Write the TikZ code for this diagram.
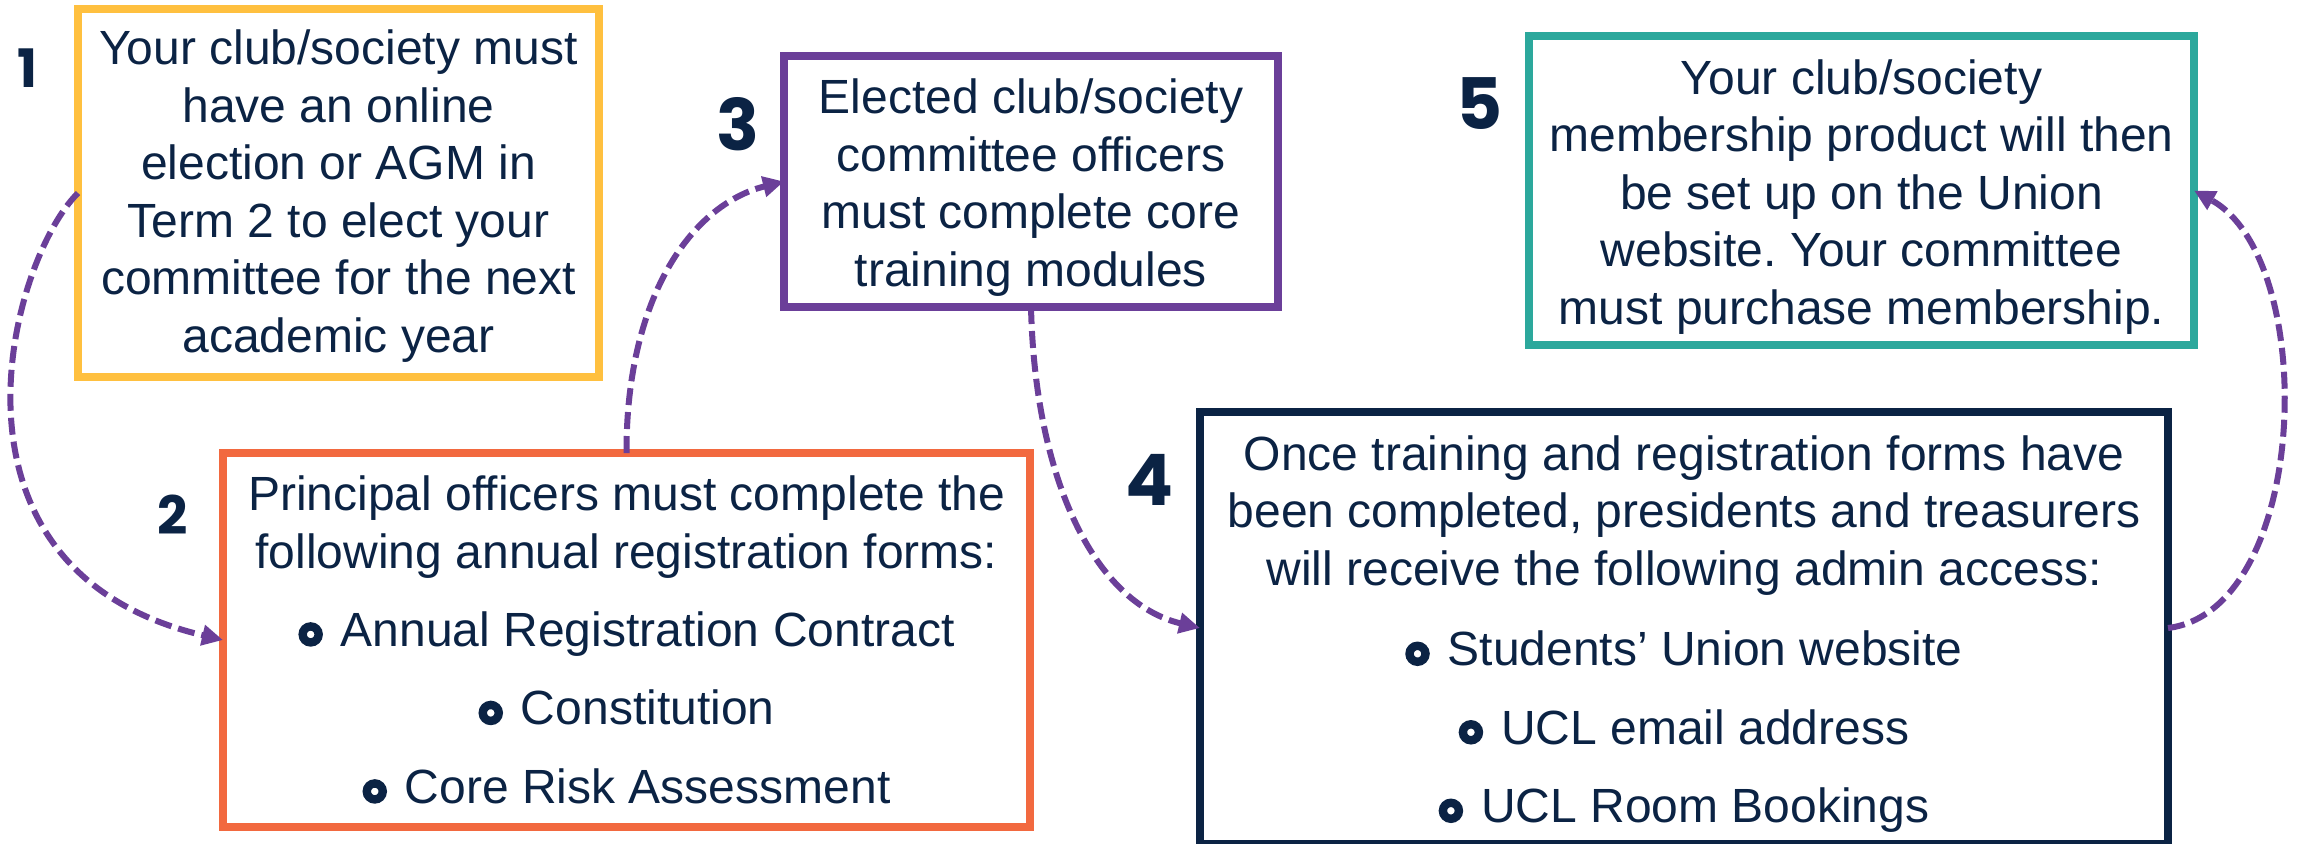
\documentclass[tikz,border=0pt]{standalone}
\usepackage{fontspec}
\setmainfont{Liberation Sans}
\newfontfamily\numfont{Poppins}
\usetikzlibrary{arrows.meta}
\definecolor{navy}{HTML}{0B2344}
\definecolor{yellowc}{HTML}{FFC03F}
\definecolor{orangec}{HTML}{F2693F}
\definecolor{purplec}{HTML}{6B3F99}
\definecolor{tealc}{HTML}{2CA89C}
\newcommand{\rb}{\tikz[baseline=0pt]\draw[navy,line width=4.2pt,solid] (0pt,6pt) circle[radius=4pt];\hspace{9pt}}
\newcommand{\up}[1]{\rule{0pt}{#1}}
\frenchspacing
\tikzset{
  box/.style={draw, line width=4pt, fill=white, inner sep=0pt, outer sep=0pt, align=center, text=navy, font=\fontsize{24}{28.75}\selectfont},
  numsmall/.style={text=navy, inner sep=0pt, font=\numfont\bfseries\fontsize{26.5}{26.5}\selectfont},
  numbig/.style={text=navy, inner sep=0pt, font=\numfont\bfseries\fontsize{35.5}{35.5}\selectfont},
  flow/.style={draw=purplec, line width=3pt, dash pattern=on 8.5pt off 3.5pt, -{Triangle[length=10.5pt,width=10pt]}},
}
\begin{document}
\begin{tikzpicture}[x=0.5pt,y=-0.5pt]
\useasboundingbox (0,0) rectangle (2300,843);
\fill[white] (0,0) rectangle (2300,843);

\node[box, draw=yellowc, minimum width=260.5pt, minimum height=184pt] (b1) at (338.5,193)
  {\up{20.5pt}Your club/society must\\have an online\\election or AGM in\\Term 2 to elect your\\committee for the next\\academic year};
\node[box, draw=orangec, minimum width=403.5pt, minimum height=187pt] (b2) at (626.5,640)
  {Principal officers must complete the\\following annual registration forms:\\[10.25pt]\rb Annual Registration Contract\\[10.5pt]\rb Constitution\\[10.5pt]\rb Core Risk Assessment};
\node[box, draw=purplec, minimum width=247pt, minimum height=125.5pt] (b3) at (1031,181.5)
  {\up{23.5pt}Elected club/society\\committee officers\\must complete core\\training modules};
\node[box, draw=navy, minimum width=484pt, minimum height=216pt] (b4) at (1684,628)
  {\up{23.5pt}Once training and registration forms have\\been completed, presidents and treasurers\\will receive the following admin access:\\[11.5pt]\rb Students’ Union website\\[10.5pt]\rb UCL email address\\[10.5pt]\rb UCL Room Bookings};
\node[box, draw=tealc, minimum width=332.5pt, minimum height=154.5pt] (b5) at (1861.5,190.5)
  {\up{23.5pt}Your club/society\\membership product will then\\be set up on the Union\\website. Your committee\\must purchase membership.};

\node[numsmall] (n1) at (27,68) {1};
\node[numsmall] (n2) at (173,515) {2};
\node[numbig] (n3) at (738,124) {3};
\node[numbig] (n4) at (1150,480) {4};
\node[numbig] (n5) at (1480,104) {5};

\draw[flow] (b1.west) .. controls (10,260) and (-75,570) .. (b2.west);
\draw[flow] (b2.north) .. controls (626,300) and (690,205) .. (b3.west);
\draw[flow] (b3.south) .. controls (1035,480) and (1095,603) .. (b4.west);
\draw[flow] (b4.east) .. controls (2310,610) and (2320,260) .. (b5.east);
\end{tikzpicture}
\end{document}
